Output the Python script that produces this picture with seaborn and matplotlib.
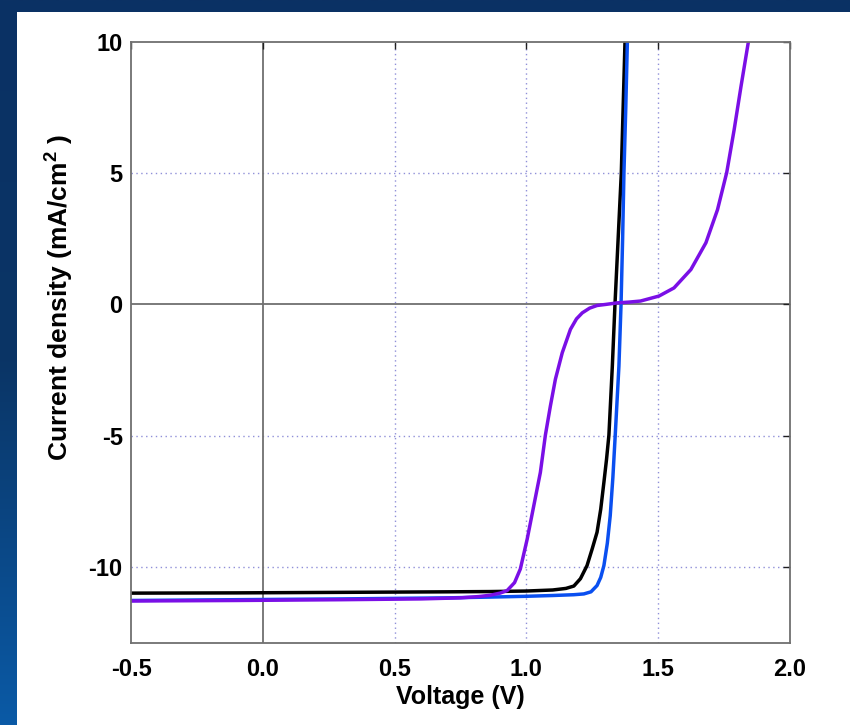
import numpy as np
import pandas as pd
import matplotlib
matplotlib.use("Agg")
import matplotlib.pyplot as plt
from matplotlib.colors import LinearSegmentedColormap
from matplotlib.patches import Rectangle
import seaborn as sns

# J-V curves of three solar cells: voltage (V) and current density (mA/cm^2)
v_black = [-0.5, -0.1, 0.3, 0.7, 0.863, 1.0, 1.1, 1.15, 1.18, 1.205, 1.23, 1.25, 1.268, 1.282,
           1.294, 1.304, 1.313, 1.326, 1.336, 1.348, 1.36, 1.367, 1.374]
j_black = [-11.0, -10.99, -10.97, -10.95, -10.94, -10.92, -10.88, -10.82, -10.73, -10.45, -9.95,
           -9.3, -8.68, -7.8, -6.78, -5.9, -4.98, -2.35, 0.0, 2.5, 5.0, 7.5, 10.0]

v_blue = [-0.5, -0.1, 0.3, 0.7, 0.863, 1.0, 1.1, 1.18, 1.218, 1.245, 1.268, 1.282, 1.294, 1.307,
          1.318, 1.328, 1.337, 1.351, 1.359, 1.365, 1.37, 1.377, 1.383]
j_blue = [-11.28, -11.25, -11.22, -11.18, -11.15, -11.12, -11.09, -11.06, -11.03, -10.95, -10.71,
          -10.4, -9.95, -9.1, -8.05, -6.6, -4.98, -2.35, 0.0, 2.5, 5.0, 7.5, 10.0]

v_purple = [-0.5, -0.1, 0.3, 0.6, 0.75, 0.82, 0.863, 0.9, 0.927, 0.955, 0.977, 1.003, 1.028,
            1.053, 1.072, 1.091, 1.11, 1.136, 1.167, 1.19, 1.212, 1.24, 1.268, 1.3, 1.345, 1.39,
            1.433, 1.503, 1.56, 1.624, 1.681, 1.725, 1.76, 1.788, 1.814, 1.842]
j_purple = [-11.3, -11.28, -11.25, -11.22, -11.18, -11.13, -11.08, -11.0, -10.9, -10.6, -10.08,
            -8.94, -7.67, -6.4, -4.98, -3.87, -2.85, -1.84, -0.95, -0.55, -0.32, -0.14, -0.04,
            0.0, 0.06, 0.09, 0.13, 0.32, 0.63, 1.33, 2.35, 3.61, 5.03, 6.65, 8.3, 10.0]

x_ticks = [-0.5, 0.0, 0.5, 1.0, 1.5, 2.0]
y_ticks = [-10, -5, 0, 5, 10]

frames = []
for name, v, j in [("reference cell", v_black, j_black),
                   ("treated cell", v_blue, j_blue),
                   ("tandem cell", v_purple, j_purple)]:
    frames.append(pd.DataFrame({"Voltage": v, "Current": j, "device": name}))
df = pd.concat(frames, ignore_index=True)

palette = {"reference cell": "#000000", "treated cell": "#0a4ff0", "tandem cell": "#7a0fe6"}

sns.set_theme(style="white")
plt.rcParams["font.family"] = ["Liberation Sans", "DejaVu Sans"]
plt.rcParams["font.weight"] = "bold"
plt.rcParams["text.color"] = "black"
plt.rcParams["axes.labelcolor"] = "black"
plt.rcParams["xtick.color"] = "black"
plt.rcParams["ytick.color"] = "black"
plt.rcParams["mathtext.fontset"] = "custom"
plt.rcParams["mathtext.rm"] = "Liberation Sans:bold"
plt.rcParams["mathtext.bf"] = "Liberation Sans:bold"
plt.rcParams["mathtext.default"] = "bf"

fig = plt.figure(figsize=(8.5, 7.25), dpi=100)

# slide-style gradient backdrop with a white panel
bg = fig.add_axes([0, 0, 1, 1], zorder=-10)
grad = np.linspace(0, 1, 256).reshape(-1, 1)
cmap = LinearSegmentedColormap.from_list("slide", ["#0b5aa6", "#0a3566", "#0b3164"])
bg.imshow(grad, aspect="auto", cmap=cmap, extent=[0, 1, 0, 1], origin="lower")
bg.add_patch(Rectangle((17 / 850, 0), 1 - 17 / 850, (725 - 12) / 725,
                       facecolor="white", edgecolor="none"))
bg.set_xlim(0, 1)
bg.set_ylim(0, 1)
bg.axis("off")

ax = fig.add_axes([131 / 850, 1 - 643 / 725, 659 / 850, 601 / 725])
ax.set_facecolor("white")

# MATLAB-like grid: dotted lavender lines, solid zero lines
for xt in x_ticks[2:-1]:
    ax.axvline(xt, color="#8f8fd8", linestyle=(0, (1, 2.5)), linewidth=1.0, zorder=0)
for yt in [-10, -5, 5]:
    ax.axhline(yt, color="#8f8fd8", linestyle=(0, (1, 2.5)), linewidth=1.0, zorder=0)
ax.axvline(0, color="#707070", linewidth=1.3, zorder=0)
ax.axhline(0, color="#707070", linewidth=1.3, zorder=0)

sns.lineplot(data=df, x="Voltage", y="Current", hue="device", palette=palette,
             sort=False, estimator=None, linewidth=2.5, legend=False, ax=ax)

ax.set_xlim(-0.5, 2.0)
ax.set_ylim(-12.9, 10)
ax.set_xticks(x_ticks)
ax.set_xticklabels([f"{t:.1f}" for t in x_ticks])
ax.set_yticks(y_ticks)
ax.set_yticklabels([str(t) for t in y_ticks])
ax.tick_params(direction="in", length=5, width=1.0, color="#202020", labelcolor="black",
               top=True, right=True, labelsize=17)
ax.tick_params(axis="x", pad=11)
ax.tick_params(axis="y", pad=6)
for lab in ax.get_xticklabels() + ax.get_yticklabels():
    lab.set_fontweight("bold")
for sp in ax.spines.values():
    sp.set_color("#707070")
    sp.set_linewidth(1.3)

ax.set_xlabel("Voltage (V)", fontsize=18, fontweight="bold", labelpad=3, color="black")
ax.set_ylabel(r"Current density (mA/cm$^{2}$ )", fontsize=19, fontweight="bold", color="black")
ax.yaxis.set_label_coords(-0.083, 0.575)

fig.savefig("out.png", dpi=100)
